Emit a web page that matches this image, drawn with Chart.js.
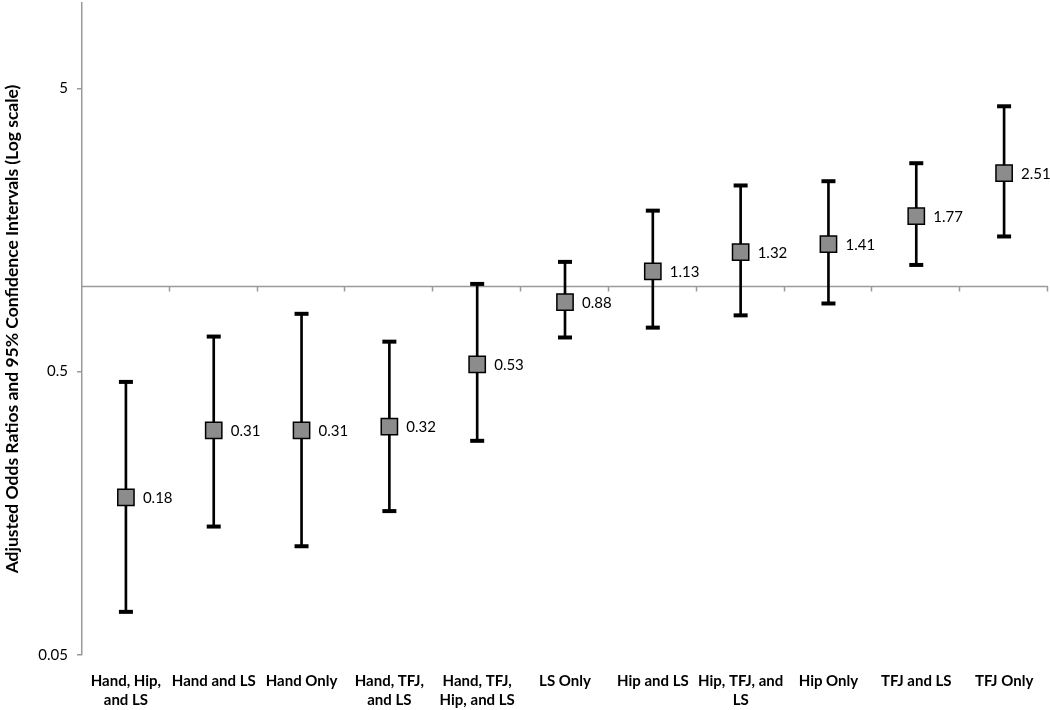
<!DOCTYPE html>
<html>
<head>
<meta charset="utf-8">
<script src="https://cdn.jsdelivr.net/npm/chart.js@4/dist/chart.umd.min.js"></script>
<style>
    html, body { margin: 0; padding: 0; background: #fff; }
    #wrap { width: 1050px; height: 710px; }
</style>
</head>
<body>
<div id="wrap"><canvas id="myChart" width="1050" height="710"></canvas></div>
<script>
var categories = [
    ['Hand, Hip,', 'and LS'],
    'Hand and LS',
    'Hand Only',
    ['Hand, TFJ,', 'and LS'],
    ['Hand, TFJ,', 'Hip, and LS'],
    'LS Only',
    'Hip and LS',
    ['Hip, TFJ, and', 'LS'],
    'Hip Only',
    'TFJ and LS',
    'TFJ Only'
];
var oddsRatios = [0.18, 0.31, 0.31, 0.32, 0.53, 0.88, 1.13, 1.32, 1.41, 1.77, 2.51];
var lowerCI = [0.071, 0.142, 0.121, 0.161, 0.285, 0.66, 0.715, 0.79, 0.87, 1.19, 1.50];
var upperCI = [0.46, 0.665, 0.80, 0.638, 1.02, 1.22, 1.85, 2.27, 2.35, 2.72, 4.32];
var yTicks = [0.05, 0.5, 5];
var refValue = 1;

var fontFamily = 'Lato, "Open Sans", sans-serif';

// line at OR = 1 with small tick marks between categories
var refLinePlugin = {
    id: 'refLine',
    beforeDatasetsDraw: function (chart)
    {
        var ctx = chart.ctx;
        var y = chart.scales.y;
        var area = chart.chartArea;
        var py = Math.round(y.getPixelForValue(refValue)) + 0.5;
        var step = (area.right - area.left) / categories.length;

        ctx.save();
        ctx.strokeStyle = '#9a9a9a';
        ctx.lineWidth = 1.5;
        ctx.beginPath();
        ctx.moveTo(area.left, py);
        ctx.lineTo(area.right, py);
        for (var i = 1; i <= categories.length; i++) {
            var px = Math.round(area.left + i * step) - 0.5;
            ctx.moveTo(px, py);
            ctx.lineTo(px, py + 5);
        }
        ctx.stroke();
        ctx.restore();
    }
};

// value labels right of each marker
var valueLabelPlugin = {
    id: 'valueLabels',
    afterDatasetsDraw: function (chart)
    {
        var ctx = chart.ctx;
        var meta = chart.getDatasetMeta(3);
        ctx.save();
        ctx.font = '15px ' + fontFamily;
        ctx.fillStyle = '#000';
        ctx.textAlign = 'left';
        ctx.textBaseline = 'middle';
        meta.data.forEach(function (pt, i) {
            ctx.fillText(oddsRatios[i].toFixed(2), pt.x + 17, pt.y + 1);
        });
        ctx.restore();
    }
};

var ctx = document.getElementById('myChart').getContext('2d');
var myChart = new Chart(ctx, {
    type: 'bar',
    data: {
        labels: categories,
        datasets: [{
            type: 'bar',
            data: lowerCI.map(function (lo, i) { return [lo, upperCI[i]]; }),
            backgroundColor: '#000',
            barThickness: 2,
            order: 3
        }, {
            type: 'line',
            data: lowerCI,
            showLine: false,
            pointStyle: 'line',
            pointRadius: 7,
            pointBorderWidth: 4,
            pointBorderColor: '#000',
            order: 2
        }, {
            type: 'line',
            data: upperCI,
            showLine: false,
            pointStyle: 'line',
            pointRadius: 7,
            pointBorderWidth: 4,
            pointBorderColor: '#000',
            order: 1
        }, {
            type: 'line',
            data: oddsRatios,
            showLine: false,
            pointStyle: 'rect',
            pointRadius: 11.5,
            pointBackgroundColor: '#8c8c8c',
            pointBorderColor: '#000',
            pointBorderWidth: 1.5,
            order: 0
        }]
    },
    options: {
        responsive: false,
        animation: false,
        layout: {autoPadding: false, padding: {top: 3, right: 2, left: 0, bottom: 0}},
        plugins: {
            legend: {display: false},
            tooltip: {enabled: false}
        },
        scales: {
            x: {
                grid: {display: false},
                border: {display: false},
                ticks: {
                    color: '#000',
                    padding: 8,
                    maxRotation: 0,
                    autoSkip: false,
                    font: {family: fontFamily, size: 15, weight: 'bold', lineHeight: 1.3}
                },
                afterFit: function (scale) { scale.height = 55; }
            },
            y: {
                type: 'logarithmic',
                min: 0.05,
                max: 10,
                afterBuildTicks: function (scale) {
                    scale.ticks = yTicks.map(function (v) { return {value: v}; });
                },
                afterFit: function (scale) {
                    scale.width = 82;
                    scale.paddingTop = 0;
                    scale.paddingBottom = 0;
                },
                grid: {
                    drawOnChartArea: false,
                    tickLength: 5,
                    color: '#9a9a9a',
                    lineWidth: 1.5
                },
                border: {color: '#9a9a9a', width: 1.5},
                ticks: {
                    color: '#000',
                    padding: 9,
                    font: {family: fontFamily, size: 15},
                    callback: function (v) { return String(v); }
                },
                title: {
                    display: true,
                    text: 'Adjusted Odds Ratios and 95% Confidence Intervals (Log scale)',
                    color: '#000',
                    padding: {top: 2, bottom: 0},
                    font: {family: fontFamily, size: 17.5, weight: 'bold'}
                }
            }
        }
    },
    plugins: [refLinePlugin, valueLabelPlugin]
});
</script>
</body>
</html>
